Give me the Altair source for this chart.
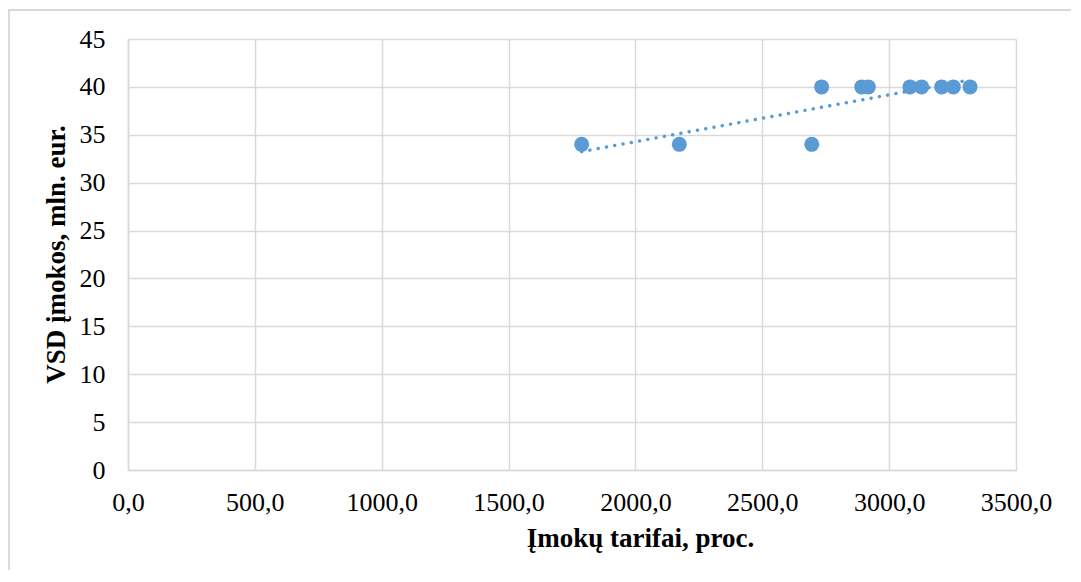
import altair as alt
import pandas as pd

tarifai = [1788, 2173, 2695, 2734, 2892, 2918, 3082, 3128, 3207, 3253, 3319]
imokos = [34, 34, 34, 40, 40, 40, 40, 40, 40, 40, 40]

df = pd.DataFrame({"x": tarifai, "y": imokos})

FONT = "Liberation Serif"
BLUE = "#5B9BD5"
GRID = "#D9D9D9"

W, H = 888, 431

xenc = alt.X(
    "x:Q",
    scale=alt.Scale(domain=[0, 3500], nice=False, zero=True),
    axis=alt.Axis(
        values=[0, 500, 1000, 1500, 2000, 2500, 3000, 3500],
        labelExpr="replace(format(datum.value, '.1f'), '.', ',')",
        labelAlign="center",
        labelFlush=False,
        labelBound=False,
        title="Įmokų tarifai, proc.",
        titleX=512,
        titleY=68,
        titleBaseline="middle",
        labelPadding=19,
    ),
)
yenc = alt.Y(
    "y:Q",
    scale=alt.Scale(domain=[0, 45], nice=False),
    axis=alt.Axis(
        values=[0, 5, 10, 15, 20, 25, 30, 35, 40, 45],
        title="VSD įmokos, mln. eur.",
        titleY=215,
        titleX=-72,
        titleBaseline="middle",
        titleAlign="center",
        labelPadding=23,
        labelFlush=False,
    ),
)

border = alt.Chart(df).mark_rect(
    fill=None, stroke=GRID, strokeWidth=1.5, clip=False
).encode(
    x=alt.value(-119.5), x2=alt.value(1200), y=alt.value(-29), y2=alt.value(700)
)

points = alt.Chart(df).mark_circle(size=225, opacity=1, color=BLUE).encode(x=xenc, y=yenc)

trend = (
    alt.Chart(df)
    .transform_regression("x", "y")
    .mark_line(color=BLUE, strokeWidth=3.5, strokeCap="round", strokeDash=[0.01, 8.4])
    .encode(x="x:Q", y="y:Q")
)

chart = (
    alt.layer(border, points, trend)
    .properties(
        width=W,
        height=H,
        autosize=alt.AutoSizeParams(type="none"),
        padding={"left": 120, "top": 31, "right": 55, "bottom": 100},
        background="white",
    )
    .configure_view(stroke=None)
    .configure_axis(
        labelFont=FONT,
        titleFont=FONT,
        labelFontSize=26,
        titleFontSize=27,
        titleFontWeight="bold",
        labelColor="black",
        titleColor="black",
        gridColor=GRID,
        gridWidth=1.5,
        domainColor=GRID,
        domainWidth=1.5,
        ticks=False,
    )
)

chart.save("out.html", embed_options={"renderer": "svg", "actions": False})
